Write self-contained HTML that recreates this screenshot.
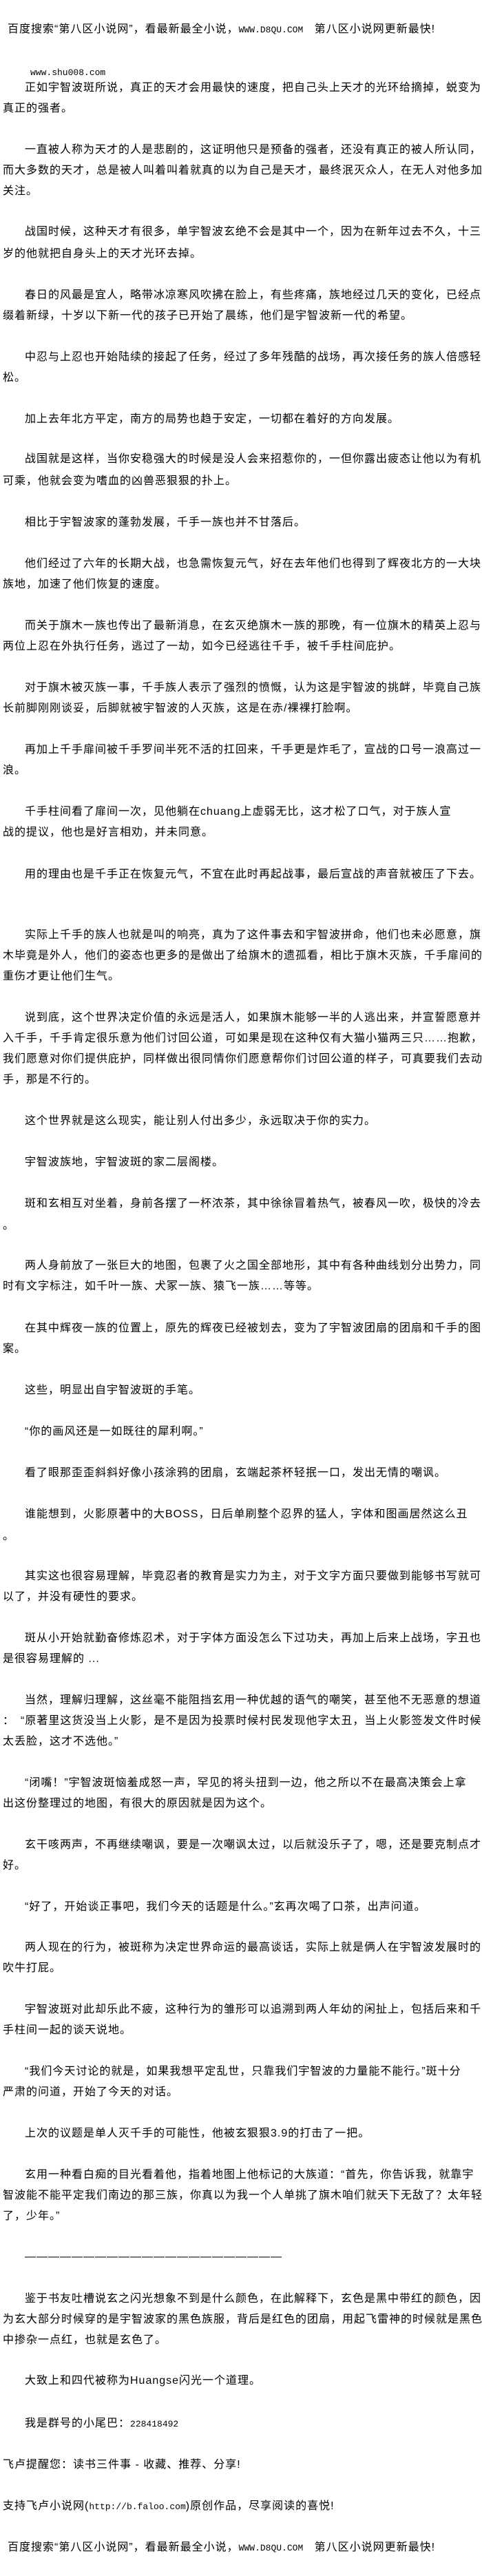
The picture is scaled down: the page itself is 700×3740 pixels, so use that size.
<!DOCTYPE html>
<html><head><meta charset="utf-8">
<style>
html,body{margin:0;padding:0;background:#fff;}
body{width:700px;height:3740px;position:relative;overflow:hidden;
font-family:"Liberation Sans","Noto Sans CJK SC","WenQuanYi Zen Hei",sans-serif;
font-size:16px;color:#000;}
.l{position:absolute;left:4px;white-space:nowrap;line-height:30px;height:30px;letter-spacing:1px;}
.i{left:36px;}
.m{font-family:"Liberation Mono",monospace;font-size:13px;letter-spacing:0;}
</style></head><body>
<div class="l" style="left:11px;top:28px">百度搜索“第八区小说网”，看最新最全小说，<span class="m">WWW.D8QU.COM</span>&nbsp;&nbsp; 第八区小说网更新最快!</div>
<div class="l m" style="left:44px;top:91px">www.shu008.com</div>
<div class="l i" style="top:113px">正如宇智波斑所说，真正的天才会用最快的速度，把自己头上天才的光环给摘掉，蜕变为</div>
<div class="l" style="top:143px">真正的强者。</div>
<div class="l i" style="top:203px">一直被人称为天才的人是悲剧的，这证明他只是预备的强者，还没有真正的被人所认同，</div>
<div class="l" style="top:233px">而大多数的天才，总是被人叫着叫着就真的以为自己是天才，最终泯灭众人，在无人对他多加</div>
<div class="l" style="top:263px">关注。</div>
<div class="l i" style="top:322px">战国时候，这种天才有很多，单宇智波玄绝不会是其中一个，因为在新年过去不久，十三</div>
<div class="l" style="top:354px">岁的他就把自身头上的天才光环去掉。</div>
<div class="l i" style="top:414px">春日的风最是宜人，略带冰凉寒风吹拂在脸上，有些疼痛，族地经过几天的变化，已经点</div>
<div class="l" style="top:444px">缀着新绿，十岁以下新一代的孩子已开始了晨练，他们是宇智波新一代的希望。</div>
<div class="l i" style="top:504px">中忍与上忍也开始陆续的接起了任务，经过了多年残酷的战场，再次接任务的族人倍感轻</div>
<div class="l" style="top:534px">松。</div>
<div class="l i" style="top:594px">加上去年北方平定，南方的局势也趋于安定，一切都在着好的方向发展。</div>
<div class="l i" style="top:652px">战国就是这样，当你安稳强大的时候是没人会来招惹你的，一但你露出疲态让他以为有机</div>
<div class="l" style="top:684px">可乘，他就会变为嗜血的凶兽恶狠狠的扑上。</div>
<div class="l i" style="top:744px">相比于宇智波家的蓬勃发展，千手一族也并不甘落后。</div>
<div class="l i" style="top:804px">他们经过了六年的长期大战，也急需恢复元气，好在去年他们也得到了辉夜北方的一大块</div>
<div class="l" style="top:834px">族地，加速了他们恢复的速度。</div>
<div class="l i" style="top:894px">而关于旗木一族也传出了最新消息，在玄灭绝旗木一族的那晚，有一位旗木的精英上忍与</div>
<div class="l" style="top:924px">两位上忍在外执行任务，逃过了一劫，如今已经逃往千手，被千手柱间庇护。</div>
<div class="l i" style="top:984px">对于旗木被灭族一事，千手族人表示了强烈的愤慨，认为这是宇智波的挑衅，毕竟自己族</div>
<div class="l" style="top:1014px">长前脚刚刚谈妥，后脚就被宇智波的人灭族，这是在赤/裸裸打脸啊。</div>
<div class="l i" style="top:1074px">再加上千手扉间被千手罗间半死不活的扛回来，千手更是炸毛了，宣战的口号一浪高过一</div>
<div class="l" style="top:1104px">浪。</div>
<div class="l i" style="top:1164px">千手柱间看了扉间一次，见他躺在chuang上虚弱无比，这才松了口气，对于族人宣</div>
<div class="l" style="top:1194px">战的提议，他也是好言相劝，并未同意。</div>
<div class="l i" style="top:1255px">用的理由也是千手正在恢复元气，不宜在此时再起战事，最后宣战的声音就被压了下去。</div>
<div class="l i" style="top:1343px">实际上千手的族人也就是叫的响亮，真为了这件事去和宇智波拼命，他们也未必愿意，旗</div>
<div class="l" style="top:1373px">木毕竟是外人，他们的姿态也更多的是做出了给旗木的遗孤看，相比于旗木灭族，千手扉间的</div>
<div class="l" style="top:1403px">重伤才更让他们生气。</div>
<div class="l i" style="top:1463px">说到底，这个世界决定价值的永远是活人，如果旗木能够一半的人逃出来，并宣誓愿意并</div>
<div class="l" style="top:1493px">入千手，千手肯定很乐意为他们讨回公道，可如果是现在这种仅有大猫小猫两三只……抱歉，</div>
<div class="l" style="top:1523px">我们愿意对你们提供庇护，同样做出很同情你们愿意帮你们讨回公道的样子，可真要我们去动</div>
<div class="l" style="top:1553px">手，那是不行的。</div>
<div class="l i" style="top:1613px">这个世界就是这么现实，能让别人付出多少，永远取决于你的实力。</div>
<div class="l i" style="top:1673px">宇智波族地，宇智波斑的家二层阁楼。</div>
<div class="l i" style="top:1733px">斑和玄相互对坐着，身前各摆了一杯浓茶，其中徐徐冒着热气，被春风一吹，极快的冷去</div>
<div class="l" style="top:1765px">。</div>
<div class="l i" style="top:1823px">两人身前放了一张巨大的地图，包裹了火之国全部地形，其中有各种曲线划分出势力，同</div>
<div class="l" style="top:1853px">时有文字标注，如千叶一族、犬冢一族、猿飞一族……等等。</div>
<div class="l i" style="top:1914px">在其中辉夜一族的位置上，原先的辉夜已经被划去，变为了宇智波团扇的团扇和千手的图</div>
<div class="l" style="top:1944px">案。</div>
<div class="l i" style="top:2004px">这些，明显出自宇智波斑的手笔。</div>
<div class="l i" style="top:2064px">“你的画风还是一如既往的犀利啊。”</div>
<div class="l i" style="top:2124px">看了眼那歪歪斜斜好像小孩涂鸦的团扇，玄端起茶杯轻抿一口，发出无情的嘲讽。</div>
<div class="l i" style="top:2184px">谁能想到，火影原著中的大BOSS，日后单刷整个忍界的猛人，字体和图画居然这么丑</div>
<div class="l" style="top:2216px">。</div>
<div class="l i" style="top:2274px">其实这也很容易理解，毕竟忍者的教育是实力为主，对于文字方面只要做到能够书写就可</div>
<div class="l" style="top:2304px">以了，并没有硬性的要求。</div>
<div class="l i" style="top:2364px">斑从小开始就勤奋修炼忍术，对于字体方面没怎么下过功夫，再加上后来上战场，字丑也</div>
<div class="l" style="top:2394px">是很容易理解的 ...</div>
<div class="l i" style="top:2454px">当然，理解归理解，这丝毫不能阻挡玄用一种优越的语气的嘲笑，甚至他不无恶意的想道</div>
<div class="l" style="top:2484px">：　“原著里这货没当上火影，是不是因为投票时候村民发现他字太丑，当上火影签发文件时候</div>
<div class="l" style="top:2514px">太丢脸，这才不选他。”</div>
<div class="l i" style="top:2574px">“闭嘴！”宇智波斑恼羞成怒一声，罕见的将头扭到一边，他之所以不在最高决策会上拿</div>
<div class="l" style="top:2604px">出这份整理过的地图，有很大的原因就是因为这个。</div>
<div class="l i" style="top:2664px">玄干咳两声，不再继续嘲讽，要是一次嘲讽太过，以后就没乐子了，嗯，还是要克制点才</div>
<div class="l" style="top:2694px">好。</div>
<div class="l i" style="top:2754px">“好了，开始谈正事吧，我们今天的话题是什么。”玄再次喝了口茶，出声问道。</div>
<div class="l i" style="top:2813px">两人现在的行为，被斑称为决定世界命运的最高谈话，实际上就是俩人在宇智波发展时的</div>
<div class="l" style="top:2843px">吹牛打屁。</div>
<div class="l i" style="top:2903px">宇智波斑对此却乐此不疲，这种行为的雏形可以追溯到两人年幼的闲扯上，包括后来和千</div>
<div class="l" style="top:2933px">手柱间一起的谈天说地。</div>
<div class="l i" style="top:2993px">“我们今天讨论的就是，如果我想平定乱世，只靠我们宇智波的力量能不能行。”斑十分</div>
<div class="l" style="top:3023px">严肃的问道，开始了今天的对话。</div>
<div class="l i" style="top:3083px">上次的议题是单人灭千手的可能性，他被玄狠狠3.9的打击了一把。</div>
<div class="l i" style="top:3143px">玄用一种看白痴的目光看着他，指着地图上他标记的大族道：“首先，你告诉我，就靠宇</div>
<div class="l" style="top:3173px">智波能不能平定我们南边的那三族，你真以为我一个人单挑了旗木咱们就天下无敌了？太年轻</div>
<div class="l" style="top:3203px">了，少年。”</div>
<div class="l i" style="top:3262px">——————————————————————</div>
<div class="l i" style="top:3323px">鉴于书友吐槽说玄之闪光想象不到是什么颜色，在此解释下，玄色是黑中带红的颜色，因</div>
<div class="l" style="top:3353px">为玄大部分时候穿的是宇智波家的黑色族服，背后是红色的团扇，用起飞雷神的时候就是黑色</div>
<div class="l" style="top:3383px">中掺杂一点红，也就是玄色了。</div>
<div class="l i" style="top:3442px">大致上和四代被称为Huangse闪光一个道理。</div>
<div class="l i" style="top:3504px">我是群号的小尾巴：<span class="m">228418492</span></div>
<div class="l" style="top:3564px">飞卢提醒您：读书三件事 - 收藏、推荐、分享!</div>
<div class="l" style="top:3624px">支持飞卢小说网(<span class="m">http://b.faloo.com</span>)原创作品，尽享阅读的喜悦!</div>
<div class="l" style="left:11px;top:3684px">百度搜索“第八区小说网”，看最新最全小说，<span class="m">WWW.D8QU.COM</span>&nbsp;&nbsp; 第八区小说网更新最快!</div>
</body></html>
